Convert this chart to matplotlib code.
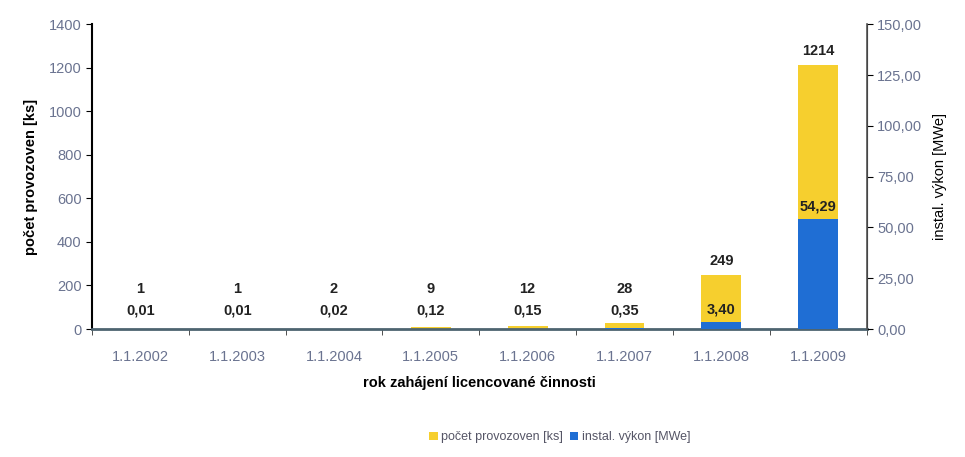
import numpy as np
import matplotlib.pyplot as plt

# data
categories = ['1.1.2002', '1.1.2003', '1.1.2004', '1.1.2005',
              '1.1.2006', '1.1.2007', '1.1.2008', '1.1.2009']
pocet = [1, 1, 2, 9, 12, 28, 249, 1214]          # počet provozoven [ks]
vykon = [0.01, 0.01, 0.02, 0.12, 0.15, 0.35, 3.40, 54.29]  # instal. výkon [MWe]

yellow = '#f6cf2e'
blue = '#1f6ed4'
tick_col = '#6a7390'

plt.rcParams['font.family'] = ['Liberation Sans', 'DejaVu Sans']

fig = plt.figure(figsize=(9.65, 4.57), dpi=100)
ax1 = fig.add_axes([0.0953, 0.28, 0.8027, 0.667])
ax2 = ax1.twinx()

x = np.arange(len(categories))
w = 0.41
ax1.bar(x, pocet, width=w, color=yellow, label='počet provozoven [ks]', zorder=2)
ax2.bar(x, vykon, width=w, color=blue, label='instal. výkon [MWe]', zorder=3)

ax1.set_xlim(-0.5, len(categories) - 0.5)
ax1.set_ylim(0, 1400)
ax2.set_ylim(0, 150)
ax1.set_yticks(np.arange(0, 1401, 200))
ax2.set_yticks(np.arange(0, 151, 25))
ax2.set_yticklabels([f'{v:.2f}'.replace('.', ',') for v in np.arange(0, 151, 25)])

ax1.set_xticks(x)
ax1.set_xticklabels(categories)
ax1.set_xticks(np.arange(-0.5, len(categories), 1), minor=True)
ax1.tick_params(axis='x', which='major', length=0, pad=15, labelsize=10.5, labelcolor=tick_col)
ax1.tick_params(axis='x', which='minor', length=4, color='#333333')
ax1.tick_params(axis='y', length=4, labelsize=10.5, labelcolor=tick_col)
ax2.tick_params(axis='y', length=4, labelsize=10.5, labelcolor=tick_col)

for ax in (ax1, ax2):
    ax.spines['top'].set_visible(False)
ax1.spines['bottom'].set_color('#4d6470')
ax1.spines['bottom'].set_linewidth(2)
ax1.spines['left'].set_linewidth(1.5)
ax2.spines['right'].set_linewidth(1.2)
ax2.spines['right'].set_color('#555555')
ax2.spines['bottom'].set_visible(False)
ax2.spines['left'].set_visible(False)

ax1.set_ylabel('počet provozoven [ks]', fontsize=10.5, fontweight='bold', labelpad=8)
ax2.set_ylabel('instal. výkon [MWe]', fontsize=10.5, labelpad=8)
ax1.set_xlabel('rok zahájení licencované činnosti', fontsize=10.5, fontweight='bold', labelpad=9)

# value labels
for xi, p, v in zip(x, pocet, vykon):
    ax1.annotate(str(p), (xi, max(p, 120)), xytext=(0, 10), textcoords='offset points',
                 ha='center', va='center', fontsize=10.5, fontweight='bold', color='#222222')
    ax2.annotate(f'{v:.2f}'.replace('.', ','), (xi, max(v, 3)), xytext=(0, 9),
                 textcoords='offset points', ha='center', va='center',
                 fontsize=10.5, fontweight='bold', color='#222222', zorder=5)

h1, l1 = ax1.get_legend_handles_labels()
h2, l2 = ax2.get_legend_handles_labels()
fig.legend(h1 + h2, l1 + l2, loc='center', bbox_to_anchor=(0.58, 0.043), ncol=2,
           frameon=False, fontsize=9, handlelength=0.7, handleheight=0.7,
           handletextpad=0.3, columnspacing=0.5, labelcolor='#555566')

fig.savefig('out.png', dpi=100)
